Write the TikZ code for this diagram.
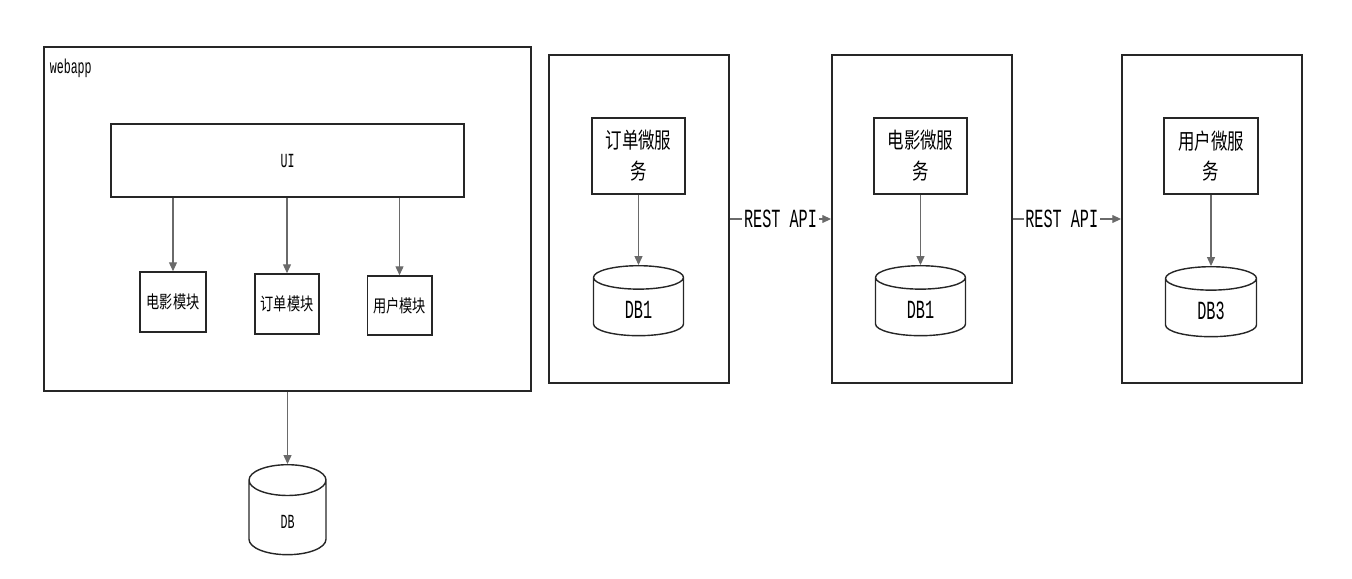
\documentclass[tikz,border=0pt]{standalone}
\usepackage{fontspec}
\usepackage{tikz}
\usetikzlibrary{arrows.meta,shapes.geometric,positioning}
\newfontfamily\cjkfont[FakeStretch=0.75]{Noto Sans CJK SC}
\newfontfamily\latinfont[FakeStretch=0.58]{Liberation Mono}
\definecolor{boxline}{HTML}{262626}
\definecolor{arrowgray}{HTML}{6A6A6A}

\tikzset{
  outerbox/.style={rectangle, draw=boxline, line width=1.1pt},
  innerbox/.style={rectangle, draw=boxline, line width=0.9pt, align=center},
  dbcyl/.style={cylinder, shape border rotate=90, draw=boxline, line width=0.8pt, aspect=0.6, anchor=north},
  calls/.style={draw=arrowgray, line width=0.6pt, -{Triangle[length=5pt,width=4.5pt]}},
  smalltext/.style={font=\latinfont\fontsize{11.4}{13}\selectfont},
  bigtext/.style={font=\latinfont\fontsize{14.9}{17}\selectfont},
  modtext/.style={font=\cjkfont\fontsize{10}{12}\selectfont},
  svctext/.style={font=\cjkfont\fontsize{12.5}{17.5}\selectfont}
}

\begin{document}
\begin{tikzpicture}[x=0.02cm, y=-0.02cm]
      \useasboundingbox (0,0) rectangle (1352,578);

      % Monolith webapp
      \node[outerbox, minimum width=9.74cm, minimum height=6.88cm] (webapp) at (287.5,219) {};
      \node[smalltext, anchor=north west, inner sep=2pt] (webapplbl) at (46,55) {webapp};

      \node[innerbox, smalltext, minimum width=7.06cm, minimum height=1.46cm] (ui) at (287.5,160.5) {UI};

      \node[innerbox, modtext, minimum width=1.32cm, minimum height=1.2cm] (movie) at (173,302) {电影模块};
      \node[innerbox, modtext, minimum width=1.28cm, minimum height=1.2cm] (order) at (287,304) {订单模块};
      \node[innerbox, modtext, minimum width=1.26cm, minimum height=1.18cm] (user) at (399.5,305.5) {用户模块};

      \draw[calls] (movie.north |- ui.south) -- (movie.north);
      \draw[calls] (order.north |- ui.south) -- (order.north);
      \draw[calls] (user.north |- ui.south) -- (user.north);

      \node[dbcyl, smalltext, aspect=1.2, minimum width=1.54cm, minimum height=1.8cm] (db) at (287.5,464) {DB};
      \draw[calls] (webapp.south) -- (db.north);

      % Microservices
      \node[outerbox, minimum width=3.6cm, minimum height=6.56cm] (ordersvc) at (639,219) {};
      \node[outerbox, minimum width=3.6cm, minimum height=6.56cm] (moviesvc) at (922,219) {};
      \node[outerbox, minimum width=3.6cm, minimum height=6.56cm] (usersvc) at (1212,219) {};

      \node[innerbox, svctext, minimum width=1.86cm, minimum height=1.52cm] (orderms) at (638.5,156) {订单微服\\务};
      \node[innerbox, svctext, minimum width=1.86cm, minimum height=1.52cm] (moviems) at (920.5,156) {电影微服\\务};
      \node[innerbox, svctext, minimum width=1.88cm, minimum height=1.52cm] (userms) at (1211,156) {用户微服\\务};

      \node[dbcyl, bigtext, minimum width=1.8cm, minimum height=1.4cm] (orderdb) at (638.5,265) {DB1};
      \node[dbcyl, bigtext, minimum width=1.8cm, minimum height=1.4cm] (moviedb) at (920.5,265) {DB1};
      \node[dbcyl, bigtext, minimum width=1.82cm, minimum height=1.4cm] (userdb) at (1211,266) {DB3};

      \draw[calls] (orderms.south) -- (orderdb.north);
      \draw[calls] (moviems.south) -- (moviedb.north);
      \draw[calls] (userms.south) -- (userdb.north);

      % REST calls between services
      \draw[calls] (ordersvc.east) -- node[bigtext, fill=white, inner sep=1pt] (rest1) {REST API} (moviesvc.west);
      \draw[calls] (moviesvc.east) -- node[bigtext, fill=white, inner sep=1pt, xshift=-3] (rest2) {REST API} (usersvc.west);
\end{tikzpicture}
\end{document}
